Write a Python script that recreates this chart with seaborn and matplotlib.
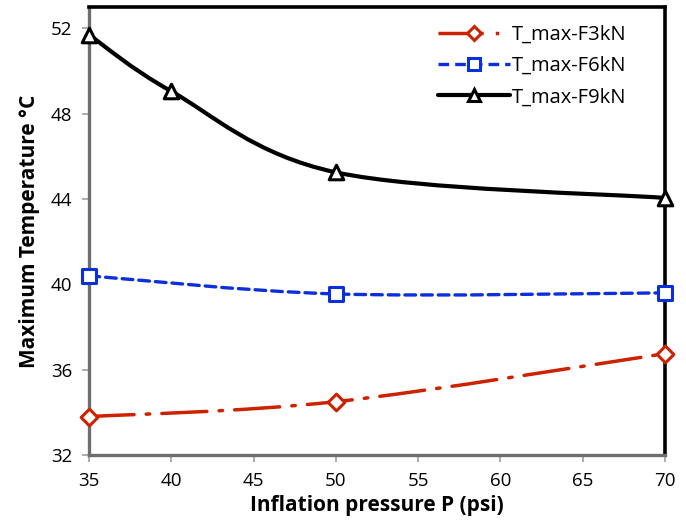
import numpy as np
import pandas as pd
import matplotlib
matplotlib.use("Agg")
import matplotlib.pyplot as plt
from matplotlib.path import Path
from matplotlib.patches import PathPatch
from matplotlib.lines import Line2D
import seaborn as sns

# data
pressure_f3 = [35, 50, 70]
temp_f3 = [33.8, 34.5, 36.75]
pressure_f6 = [35, 50, 70]
temp_f6 = [40.4, 39.55, 39.6]
pressure_f9 = [35, 40, 50, 70]
temp_f9 = [51.7, 49.05, 45.25, 44.05]
series_names = ["T_max-F3kN", "T_max-F6kN", "T_max-F9kN"]

x_ticks = [35, 40, 45, 50, 55, 60, 65, 70]
y_ticks = [32, 36, 40, 44, 48, 52]

RED = "#CC2200"
BLUE = "#0A2FDB"
BLACK = "#000000"

sns.set_theme(style="white")
plt.rcParams["font.family"] = ["Open Sans", "DejaVu Sans"]
plt.rcParams["text.color"] = "black"


def smooth_path(xs, ys):
    """Excel-like smoothed line: cubic Bezier between data points"""
    pts = np.column_stack([xs, ys]).astype(float)
    verts = [pts[0]]
    codes = [Path.MOVETO]
    n = len(pts)
    for i in range(n - 1):
        p_prev = pts[i - 1] if i > 0 else pts[i]
        p_next = pts[i + 2] if i + 2 < n else pts[i + 1]
        c1 = pts[i] + (pts[i + 1] - p_prev) / 6.0
        c2 = pts[i + 1] - (p_next - pts[i]) / 6.0
        verts += [c1, c2, pts[i + 1]]
        codes += [Path.CURVE4] * 3
    return Path(verts, codes)


fig = plt.figure(figsize=(6.86, 5.31), dpi=100)
ax = fig.add_axes([0.1297, 0.1431, 0.8397, 0.8437])

styles = [
    (pressure_f3, temp_f3, RED, (0, (13, 3.5, 1, 3.5)), "D", 8.5, 2.5),
    (pressure_f6, temp_f6, BLUE, (0, (3.2, 1.8)), "s", 10, 2.4),
    (pressure_f9, temp_f9, BLACK, "-", "^", 10.5, 3.0),
]

handles = []
for (xs, ys, color, ls, marker, ms, lw), name in zip(styles, series_names):
    patch = PathPatch(smooth_path(xs, ys), facecolor="none", edgecolor=color,
                      linewidth=lw, linestyle=ls, transform=ax.transData,
                      zorder=2)
    patch.set_capstyle("round")
    ax.add_patch(patch)
    df = pd.DataFrame({"x": xs, "y": ys})
    sns.scatterplot(data=df, x="x", y="y", ax=ax, marker=marker, s=ms ** 2,
                    facecolor="white", edgecolor=color, linewidth=2.2,
                    zorder=3, legend=False, clip_on=False)
    handles.append(Line2D([], [], color=color, linestyle=ls, linewidth=lw,
                          marker=marker, markersize=ms * 0.85,
                          markerfacecolor="white", markeredgecolor=color,
                          markeredgewidth=2.2, label=name))

ax.set_xlim(35, 70)
ax.set_ylim(32, 53)
ax.set_xticks(x_ticks)
ax.set_yticks(y_ticks)
ax.tick_params(axis="both", labelsize=13.5, length=5, width=1.2,
               color="#A0A0A0", labelcolor="black", direction="out", pad=7,
               left=True, bottom=True)

for side in ["left", "bottom"]:
    ax.spines[side].set_color("#6E6E6E")
    ax.spines[side].set_linewidth(2.4)
for side in ["top", "right"]:
    ax.spines[side].set_color("black")
    ax.spines[side].set_linewidth(2.6)

ax.set_xlabel("Inflation pressure P (psi)", fontsize=15, fontweight="bold",
              labelpad=4, color="black")
ax.set_ylabel("Maximum Temperature °C", fontsize=15, fontweight="bold",
              labelpad=8, color="black")

ax.legend(handles=handles, loc="upper right", frameon=False, fontsize=14.5,
          handlelength=3.6, handletextpad=0.1, labelspacing=0.55,
          bbox_to_anchor=(0.965, 1.0))

fig.savefig("out.png", dpi=100)
